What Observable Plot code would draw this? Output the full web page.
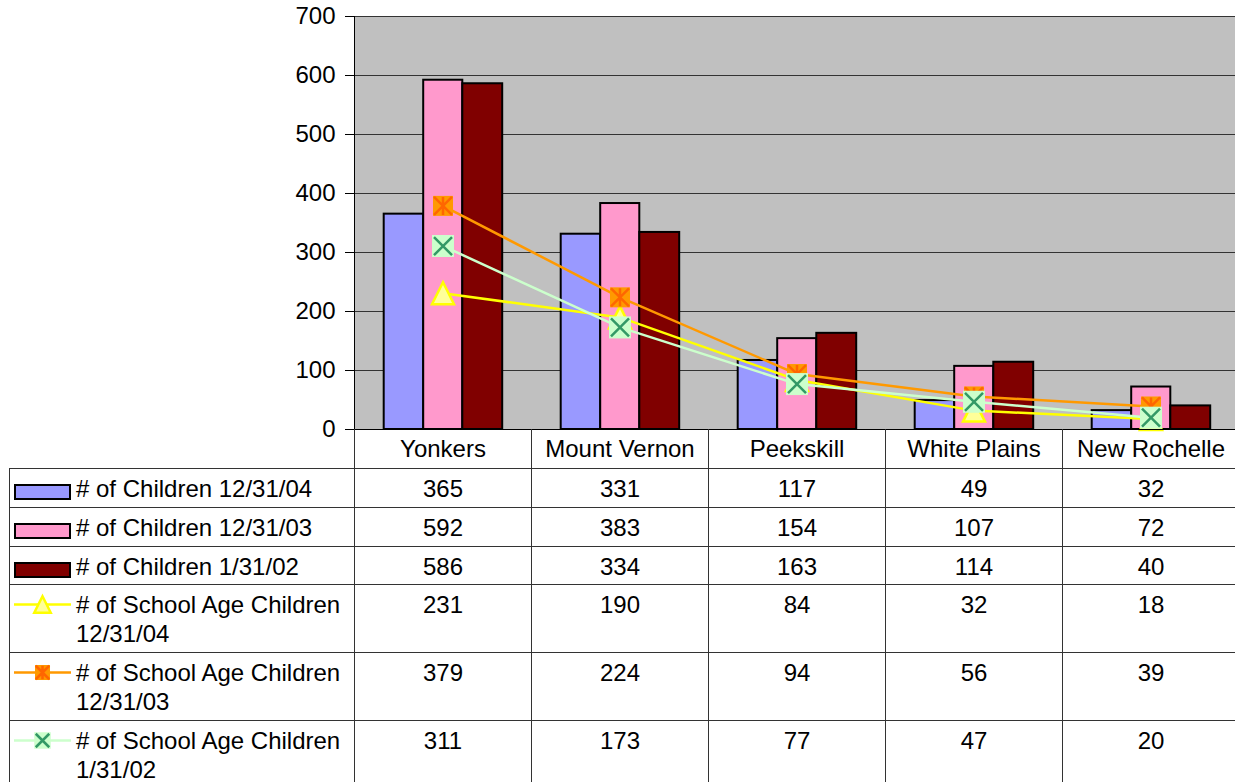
<!DOCTYPE html>
<html><head><meta charset="utf-8">
<script src="https://cdn.jsdelivr.net/npm/d3@7"></script>
<script src="https://cdn.jsdelivr.net/npm/@observablehq/plot@0.6"></script>
<style>
html,body{margin:0;padding:0;background:#fff;overflow:hidden;}
#wrap{position:relative;width:1239px;height:782px;font-family:"Liberation Sans",Arial,sans-serif;}
#chart{position:absolute;left:0;top:0;}
#tbl{position:absolute;left:9px;top:468px;border-collapse:collapse;table-layout:fixed;width:1230px;font-size:24px;color:#000;}
#tbl td{border:1px solid #333;padding:5px 0 0 0;vertical-align:top;text-align:center;line-height:29px;overflow:hidden;}
#tbl td.lab{text-align:left;padding-left:4px;}
.labin{display:flex;align-items:flex-start;}
.labin svg{flex:none;margin-right:5px;display:block;}
.labin span{flex:1;}
</style></head>
<body><div id="wrap"><div id="chart"></div><table id="tbl"></table></div>
<script>
// ---- data ----
const categories = ["Yonkers", "Mount Vernon", "Peekskill", "White Plains", "New Rochelle"];
const seriesNames = [
  "# of Children 12/31/04",
  "# of Children 12/31/03",
  "# of Children 1/31/02",
  "# of School Age Children 12/31/04",
  "# of School Age Children 12/31/03",
  "# of School Age Children 1/31/02"
];
const children_12_31_04 = [365, 331, 117, 49, 32];
const children_12_31_03 = [592, 383, 154, 107, 72];
const children_1_31_02 = [586, 334, 163, 114, 40];
const school_12_31_04 = [231, 190, 84, 32, 18];
const school_12_31_03 = [379, 224, 94, 56, 39];
const school_1_31_02 = [311, 173, 77, 47, 20];
const yTicks = [0, 100, 200, 300, 400, 500, 600, 700];

const seriesValues = [children_12_31_04, children_12_31_03, children_1_31_02, school_12_31_04, school_12_31_03, school_1_31_02];

// ---- styling ----
const BW = 177; // band width in px (885 / 5)
const barStyles = [
  {fill: "#9999FF", insetLeft: 29.7, insetRight: BW - 69.2},
  {fill: "#FF99CC", insetLeft: 69.2, insetRight: BW - 108.3},
  {fill: "#800000", insetLeft: 108.3, insetRight: BW - 148.2}
];

// custom marker symbols (size = PI*r*r  -> r = half extent)
const half = s => Math.sqrt(s / Math.PI);
const symSquare = {draw(c, s) { const r = half(s); c.moveTo(-r, -r); c.lineTo(r, -r); c.lineTo(r, r); c.lineTo(-r, r); c.closePath(); }};
const symTri = {draw(c, s) { const r = half(s); c.moveTo(0, -r); c.lineTo(r, r); c.lineTo(-r, r); c.closePath(); }};
const symStar = {draw(c, s) { const r = half(s); c.moveTo(0, -r); c.lineTo(0, r); c.moveTo(-r, -r); c.lineTo(r, r); c.moveTo(-r, r); c.lineTo(r, -r); }};
const symTimes = {draw(c, s) { const r = half(s); c.moveTo(-r, -r); c.lineTo(r, r); c.moveTo(-r, r); c.lineTo(r, -r); }};

const lineStyles = [
  {line: "#FFFF00", markers: [{symbol: symTri, r: 11, fill: "#FFFF99", stroke: "#FFFF00", strokeWidth: 2.5}]},
  {line: "#FF9900", markers: [{symbol: symSquare, r: 10, fill: "#FF9900", stroke: "none"}, {symbol: symStar, r: 9, fill: "none", stroke: "#FF6600", strokeWidth: 2.5}]},
  {line: "#CCFFCC", markers: [{symbol: symSquare, r: 11, fill: "#CCFFCC", stroke: "none"}, {symbol: symTimes, r: 9, fill: "none", stroke: "#339966", strokeWidth: 2.5}]}
];

const rows = (k) => categories.map((c, i) => ({city: c, series: seriesNames[k], value: seriesValues[k][i]}));

const marks = [
  Plot.frame({fill: "#C0C0C0", stroke: "none"}),
  Plot.gridY({ticks: yTicks, stroke: "#333", strokeOpacity: 1, strokeWidth: 1})
];
barStyles.forEach((st, k) => {
  marks.push(Plot.barY(rows(k), {x: "city", y: "value", fill: st.fill, stroke: "#000", strokeWidth: 2, insetLeft: st.insetLeft, insetRight: st.insetRight}));
});
lineStyles.forEach((st, j) => {
  const d = rows(3 + j);
  marks.push(Plot.line(d, {x: "city", y: "value", stroke: st.line, strokeWidth: 2.5}));
  st.markers.forEach(m => marks.push(Plot.dot(d, {x: "city", y: "value", ...m})));
});
marks.push(
  Plot.frame({anchor: "left", stroke: "#000", strokeWidth: 1}),
  Plot.ruleY([0], {stroke: "#000", strokeWidth: 1}),
  Plot.axisY({ticks: yTicks, tickSize: 9, tickPadding: 10, fontSize: 24, stroke: "#000", label: null}),
  Plot.axisX({tickSize: 0, tickPadding: 10, fontSize: 24, label: null}),
  Plot.axisX({tickSize: 39, tickFormat: () => "", dx: -BW / 2, stroke: "#333", label: null})
);

const chart = Plot.plot({
  width: 1239, height: 468,
  marginLeft: 354, marginRight: 0, marginTop: 16, marginBottom: 39,
  style: {fontFamily: "'Liberation Sans', Arial, sans-serif", fontSize: "24px", color: "#000", background: "transparent", overflow: "visible"},
  x: {type: "band", domain: categories, padding: 0, label: null},
  y: {domain: [0, 700], label: null},
  marks
});
document.getElementById("chart").appendChild(chart);

// ---- data table ----
const rowHeights = [39, 39, 38, 68, 68, 68];
const tbl = d3.select("#tbl");
const cg = tbl.append("colgroup");
cg.append("col").style("width", "345px");
categories.forEach(() => cg.append("col").style("width", BW + "px"));

function legendSwatch(k) {
  const svg = d3.create("svg").attr("width", 57).attr("height", 29);
  if (k < 3) {
    svg.append("rect").attr("x", 1).attr("y", 11).attr("width", 55).attr("height", 14)
      .attr("fill", barStyles[k].fill).attr("stroke", "#000").attr("stroke-width", 2);
  } else {
    const st = lineStyles[k - 3];
    svg.append("line").attr("x1", 0).attr("x2", 57).attr("y1", 14.5).attr("y2", 14.5)
      .attr("stroke", st.line).attr("stroke-width", 2.5);
    st.markers.forEach(m => {
      const r = m.r * 0.75;
      const p = d3.path();
      m.symbol.draw(p, Math.PI * r * r);
      svg.append("path").attr("d", p.toString()).attr("transform", "translate(28.5,14.5)")
        .attr("fill", m.fill).attr("stroke", m.stroke).attr("stroke-width", m.strokeWidth || 0);
    });
  }
  return svg.node();
}

seriesNames.forEach((name, k) => {
  const tr = tbl.append("tr").style("height", rowHeights[k] + "px");
  const lab = tr.append("td").attr("class", "lab").append("div").attr("class", "labin");
  lab.node().appendChild(legendSwatch(k));
  lab.append("span").text(name);
  seriesValues[k].forEach(v => tr.append("td").text(v));
});
</script>
</body></html>
